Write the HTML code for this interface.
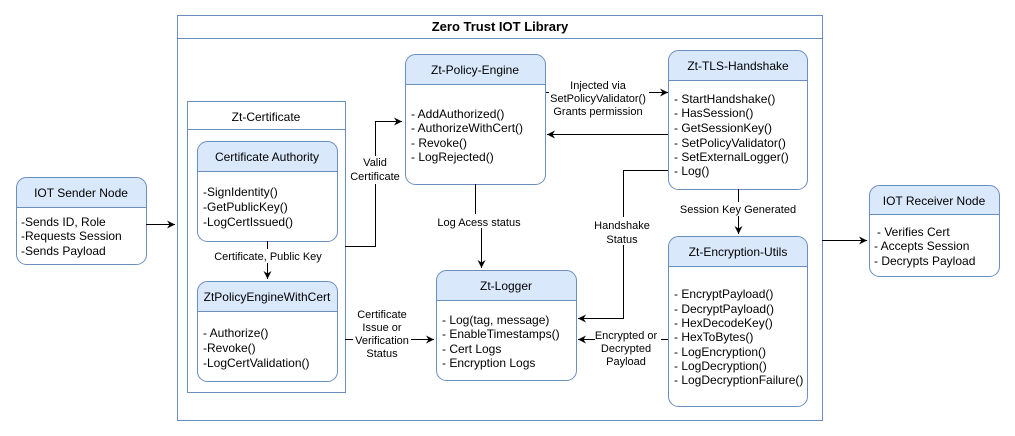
<!DOCTYPE html>
<html><head><meta charset="utf-8"><style>
html,body{margin:0;padding:0;background:#fff;}
svg{display:block;font-family:"Liberation Sans",Arial,sans-serif;}
</style></head><body>
<svg width="1015" height="436" viewBox="0 0 1015 436" xmlns="http://www.w3.org/2000/svg">
<defs>
<marker id="a" markerWidth="10" markerHeight="10" refX="8" refY="5" orient="auto" markerUnits="userSpaceOnUse">
<path d="M0,1 L8,5 L0,9 L2.5,5 Z" fill="#000"/></marker>
</defs>
<g fill="none" stroke="#6c8ebf" stroke-width="1">
<rect x="177.5" y="15.5" width="645" height="405" fill="#fff"/>
<line x1="177.5" y1="38.5" x2="822.5" y2="38.5"/>
<rect x="187.5" y="101.5" width="158" height="291" fill="#fff"/>
<line x1="187.5" y1="129.5" x2="345.5" y2="129.5"/>
</g>
<text x="500" y="31" font-size="13" font-weight="bold" text-anchor="middle">Zero Trust IOT Library</text>
<text x="266" y="121" font-size="12" text-anchor="middle">Zt-Certificate</text>

<g stroke="#6c8ebf" stroke-width="1">
<path d="M197.5,171.5 V151.5 a10,10 0 0 1 10,-10 H327.5 a10,10 0 0 1 10,10 V171.5 Z" fill="#dae8fc"/>
<path d="M197.5,171.5 V231.5 a10,10 0 0 0 10,10 H327.5 a10,10 0 0 0 10,-10 V171.5 Z" fill="#fff"/>
<path d="M197.5,311.5 V291.5 a10,10 0 0 1 10,-10 H327.5 a10,10 0 0 1 10,10 V311.5 Z" fill="#dae8fc"/>
<path d="M197.5,311.5 V371.5 a10,10 0 0 0 10,10 H327.5 a10,10 0 0 0 10,-10 V311.5 Z" fill="#fff"/>
<path d="M405.5,84.5 V64.5 a10,10 0 0 1 10,-10 H535.5 a10,10 0 0 1 10,10 V84.5 Z" fill="#dae8fc"/>
<path d="M405.5,84.5 V174.5 a10,10 0 0 0 10,10 H535.5 a10,10 0 0 0 10,-10 V84.5 Z" fill="#fff"/>
<path d="M436.5,300.5 V280.5 a10,10 0 0 1 10,-10 H566.5 a10,10 0 0 1 10,10 V300.5 Z" fill="#dae8fc"/>
<path d="M436.5,300.5 V370.5 a10,10 0 0 0 10,10 H566.5 a10,10 0 0 0 10,-10 V300.5 Z" fill="#fff"/>
<path d="M668.5,80.5 V60.5 a10,10 0 0 1 10,-10 H797.5 a10,10 0 0 1 10,10 V80.5 Z" fill="#dae8fc"/>
<path d="M668.5,80.5 V179.5 a10,10 0 0 0 10,10 H797.5 a10,10 0 0 0 10,-10 V80.5 Z" fill="#fff"/>
<path d="M668.5,266.5 V246.5 a10,10 0 0 1 10,-10 H797.5 a10,10 0 0 1 10,10 V266.5 Z" fill="#dae8fc"/>
<path d="M668.5,266.5 V396.5 a10,10 0 0 0 10,10 H797.5 a10,10 0 0 0 10,-10 V266.5 Z" fill="#fff"/>
<path d="M16.5,207.5 V187.5 a10,10 0 0 1 10,-10 H136.5 a10,10 0 0 1 10,10 V207.5 Z" fill="#dae8fc"/>
<path d="M16.5,207.5 V254.5 a10,10 0 0 0 10,10 H136.5 a10,10 0 0 0 10,-10 V207.5 Z" fill="#fff"/>
<path d="M869.5,214.5 V195.5 a10,10 0 0 1 10,-10 H989.5 a10,10 0 0 1 10,10 V214.5 Z" fill="#dae8fc"/>
<path d="M869.5,214.5 V266.5 a10,10 0 0 0 10,10 H989.5 a10,10 0 0 0 10,-10 V214.5 Z" fill="#fff"/>
</g>

<g font-size="12" text-anchor="middle">
<text x="267" y="161">Certificate Authority</text>
<text x="267" y="301">ZtPolicyEngineWithCert</text>
<text x="475" y="74">Zt-Policy-Engine</text>
<text x="506" y="290">Zt-Logger</text>
<text x="738" y="70">Zt-TLS-Handshake</text>
<text x="738" y="256">Zt-Encryption-Utils</text>
<text x="81" y="197">IOT Sender Node</text>
<text x="934" y="205">IOT Receiver Node</text>
</g>
<g font-size="12">
<text x="203" y="196">-SignIdentity()</text>
<text x="203" y="211">-GetPublicKey()</text>
<text x="203" y="226">-LogCertIssued()</text>
<text x="203" y="337">- Authorize()</text>
<text x="203" y="352">-Revoke()</text>
<text x="203" y="367">-LogCertValidation()</text>
<text x="411" y="118">- AddAuthorized()</text>
<text x="411" y="132">- AuthorizeWithCert()</text>
<text x="411" y="147">- Revoke()</text>
<text x="411" y="161">- LogRejected()</text>
<text x="442" y="324">- Log(tag, message)</text>
<text x="442" y="338">- EnableTimestamps()</text>
<text x="442" y="353">- Cert Logs</text>
<text x="442" y="367">- Encryption Logs</text>
<text x="674" y="103">- StartHandshake()</text>
<text x="674" y="117">- HasSession()</text>
<text x="674" y="132">- GetSessionKey()</text>
<text x="674" y="147">- SetPolicyValidator()</text>
<text x="674" y="161">- SetExternalLogger()</text>
<text x="674" y="175">- Log()</text>
<text x="674" y="298">- EncryptPayload()</text>
<text x="674" y="313">- DecryptPayload()</text>
<text x="674" y="327">- HexDecodeKey()</text>
<text x="674" y="341">- HexToBytes()</text>
<text x="674" y="356">- LogEncryption()</text>
<text x="674" y="370">- LogDecryption()</text>
<text x="674" y="384">- LogDecryptionFailure()</text>
<text x="21" y="226">-Sends ID, Role</text>
<text x="21" y="240">-Requests Session</text>
<text x="21" y="255">-Sends Payload</text>
<text x="877" y="236">- Verifies Cert</text>
<text x="874" y="250">- Accepts Session</text>
<text x="874" y="265">- Decrypts Payload</text>
</g>

<g stroke="#000" stroke-width="1" fill="none">
<line x1="146" y1="224.5" x2="175" y2="224.5" marker-end="url(#a)"/>
<line x1="822" y1="240.5" x2="867" y2="240.5" marker-end="url(#a)"/>
<polyline points="345,246.5 375.5,246.5 375.5,121.5 402,121.5" marker-end="url(#a)"/>
<line x1="267.5" y1="241" x2="267.5" y2="279" marker-end="url(#a)"/>
<line x1="345" y1="339.5" x2="434" y2="339.5" marker-end="url(#a)"/>
<polyline points="475.5,184 475.5,221 481.5,221 481.5,268" marker-end="url(#a)"/>
<polyline points="546,92.5 668,92.5" marker-end="url(#a)"/>
<line x1="668" y1="134.5" x2="547" y2="134.5" marker-end="url(#a)"/>
<polyline points="668,170.5 623.5,170.5 623.5,318.5 578,318.5" marker-end="url(#a)"/>
<line x1="668" y1="339.5" x2="578" y2="339.5" marker-end="url(#a)"/>
<line x1="738.5" y1="189" x2="738.5" y2="234" marker-end="url(#a)"/>
</g>

<g font-size="11" text-anchor="middle">
<rect x="355" y="156" width="42" height="28" fill="#fff"/>
<text x="375" y="166">Valid</text>
<text x="375" y="180">Certificate</text>
<rect x="213" y="249" width="110" height="14" fill="#fff"/>
<text x="268" y="260">Certificate, Public Key</text>
<rect x="353" y="306" width="58" height="56" fill="#fff"/>
<text x="382" y="318">Certificate</text>
<text x="382" y="331">Issue or</text>
<text x="382" y="344">Verification</text>
<text x="382" y="357">Status</text>
<rect x="436" y="214" width="88" height="14" fill="#fff"/>
<text x="479" y="226">Log Acess status</text>
<rect x="549" y="82" width="100" height="38" fill="#fff"/>
<text x="598" y="89">Injected via</text>
<text x="598" y="102">SetPolicyValidator()</text>
<text x="598" y="115">Grants permission</text>
<rect x="594" y="217" width="58" height="28" fill="#fff"/>
<text x="622" y="229">Handshake</text>
<text x="622" y="243">Status</text>
<rect x="680" y="202" width="118" height="14" fill="#fff"/>
<text x="738" y="213">Session Key Generated</text>
<rect x="595" y="328" width="66" height="38" fill="#fff"/>
<text x="626" y="339">Encrypted or</text>
<text x="626" y="352">Decrypted</text>
<text x="626" y="365">Payload</text>
</g>
</svg>
</body></html>
